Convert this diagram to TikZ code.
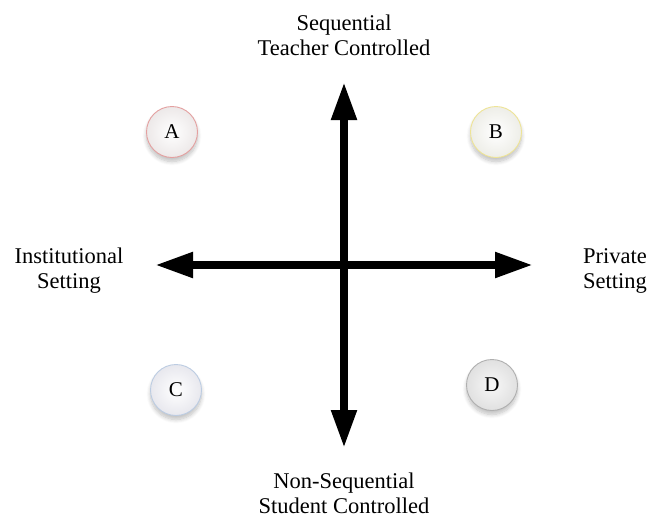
\documentclass[tikz,border=0pt]{standalone}
\usepackage{fontspec}
\setmainfont{Liberation Serif}
\usetikzlibrary{arrows.meta, shadows.blur}
\definecolor{ringA}{RGB}{228, 160, 160}
\definecolor{ringB}{RGB}{238, 228, 150}
\definecolor{ringC}{RGB}{188, 204, 226}
\definecolor{ringD}{RGB}{175, 175, 175}

\begin{document}
\begin{tikzpicture}[x=1pt, y=-1pt,
  axis/.style={line width=8pt, {Triangle[width=24pt, length=38pt]}-{Triangle[width=24pt, length=38pt]}},
  lbl/.style={align=center, inner sep=0pt, font=\fontsize{22.5}{25}\selectfont},
  ball/.style={circle, minimum size=51pt, inner sep=0pt, line width=0.9pt,
    font=\fontsize{21}{24}\selectfont,
    blur shadow={shadow xshift=0pt, shadow yshift=-4pt, shadow blur steps=8, shadow blur radius=4pt, shadow opacity=25}}
]
  \useasboundingbox (0,0) rectangle (649,517);

  % axes
  \coordinate (up) at (344,82);
  \coordinate (down) at (344,448);
  \coordinate (left) at (155,265);
  \coordinate (right) at (533,265);
  \draw[axis] (left) -- (right);
  \draw[axis] (down) -- (up);

  % axis labels
  \node[lbl] (seq) at (344,35) {Sequential\\Teacher Controlled};
  \node[lbl] (nonseq) at (344,493) {Non-Sequential\\Student Controlled};
  \node[lbl] (inst) at (69,271) {Institutional\\Setting};
  \node[lbl] (priv) at (615,271) {Private\\Setting};

  % quadrants
  \node[ball, draw=ringA, inner color=white, outer color=red!10!gray!16] (A) at (172,132) {A};
  \node[ball, draw=ringB, inner color=white, outer color=yellow!15!gray!16] (B) at (496,132) {B};
  \node[ball, draw=ringC, inner color=white, outer color=blue!15!gray!16] (C) at (176,390) {C};
  \node[ball, draw=ringD, inner color=white!94!gray, outer color=gray!24] (D) at (492,385) {D};
\end{tikzpicture}
\end{document}
